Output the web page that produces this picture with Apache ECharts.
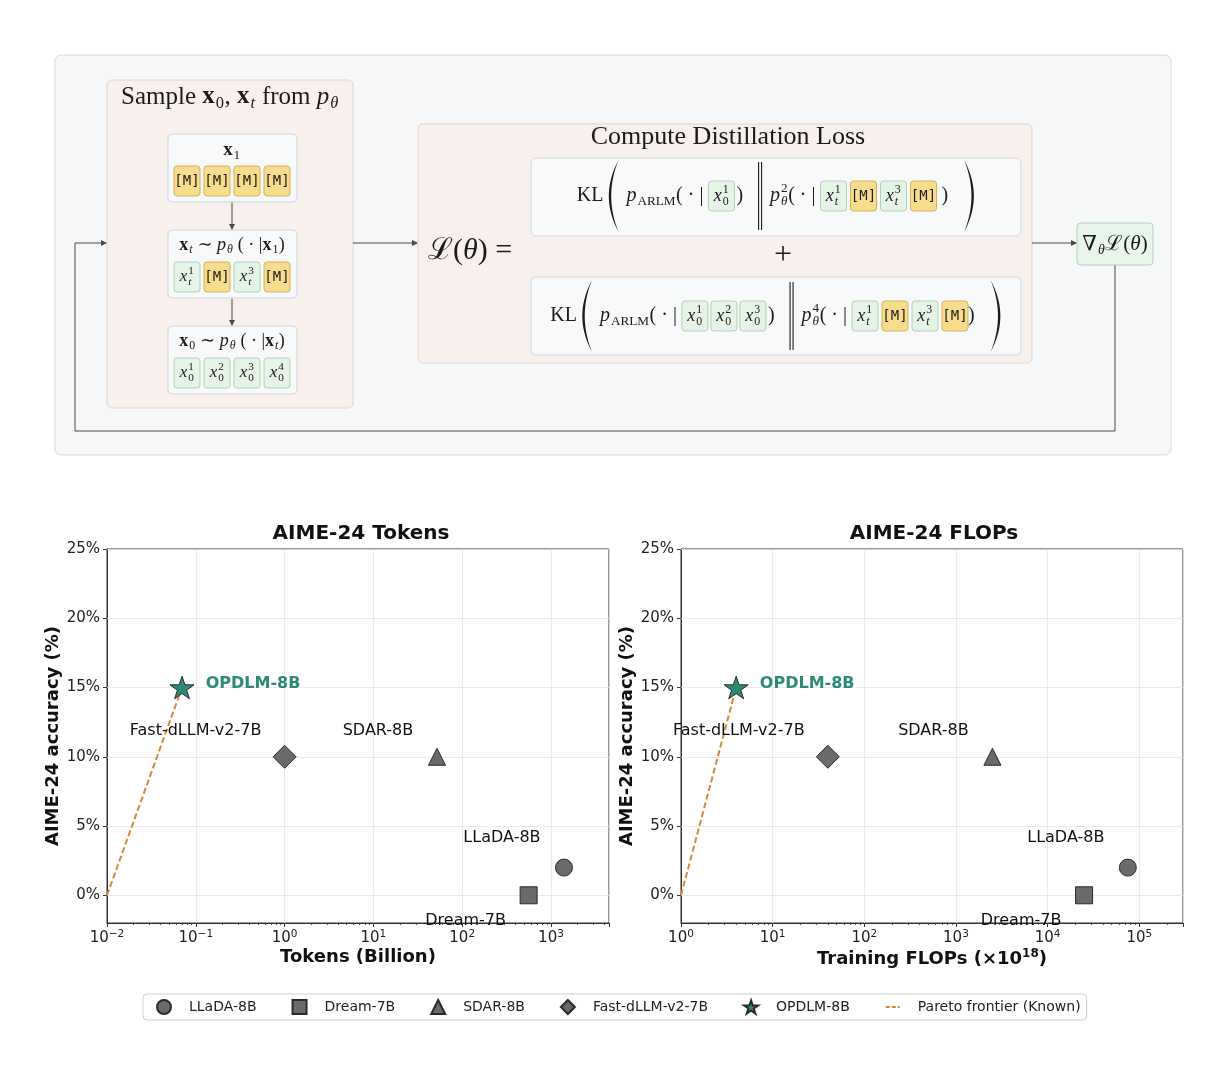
<!DOCTYPE html>
<html>
<head>
<meta charset="utf-8">
<title>OPDLM distillation loop and AIME-24 efficiency</title>
<script src="https://cdn.jsdelivr.net/npm/echarts@6/dist/echarts.min.js"></script>
<style>
  html, body { margin: 0; padding: 0; background: #fff; }
  #main { width: 1225px; height: 1066px; }
</style>
</head>
<body>
<div id="main"></div>
<script>
// ---- data ----
const models = ['LLaDA-8B', 'Dream-7B', 'SDAR-8B', 'Fast-dLLM-v2-7B', 'OPDLM-8B'];
const accuracy = [2, 0, 10, 10, 15];
const tokensBillion = [1400, 560, 52, 1, 0.07];
const flopsE18 = [75000, 25000, 2500, 40, 4];
const paretoTokens = [0.01, 0.07];
const paretoFlops = [1, 4];
const paretoAcc = [0, 15];
const yTicks = [0, 5, 10, 15, 20, 25];
const paretoName = 'Pareto frontier (Known)';

const SANS = '"DejaVu Sans", sans-serif';
const SERIF = '"Liberation Serif", "DejaVu Serif", serif';
const MONO = '"DejaVu Sans Mono", monospace';
const teal = '#2b8b78';
const gray = '#6a6a6a';
const orange = '#d08b3c';

// ---- diagram helpers (graphic elements) ----
const G = [];
const cv = document.createElement('canvas').getContext('2d');
function fstr(sz, o) { return (o.it ? 'italic ' : '') + (o.b ? 'bold ' : '') + sz + 'px ' + (o.fam || SERIF); }
function tw(s, sz, o) { cv.font = fstr(sz, o || {}); return cv.measureText(s).width; }

function box(x, y, w, h, fill, stroke, r, z) {
  G.push({ type: 'rect', silent: true, z: z || 1, shape: { x: x, y: y, width: w, height: h, r: r || 4 },
    style: { fill: fill, stroke: stroke, lineWidth: 1 } });
}
function seg(pts) {
  G.push({ type: 'polyline', silent: true, z: 2, shape: { points: pts }, style: { stroke: '#4a4a4a', lineWidth: 1 } });
}
function head(x, y, dir) {
  const p = dir === 'r' ? [[x, y], [x - 6, y - 3], [x - 6, y + 3]] : [[x, y], [x - 3, y - 6], [x + 3, y - 6]];
  G.push({ type: 'polygon', silent: true, z: 2, shape: { points: p }, style: { fill: '#4a4a4a' } });
}
function txt(x, y, s, sz, o) {
  o = o || {};
  G.push({ type: 'text', silent: true, z: 6, x: x, y: y, style: {
    text: s, fontSize: sz, fontFamily: o.fam || SERIF,
    fontStyle: o.it ? 'italic' : 'normal', fontWeight: o.b ? 'bold' : 'normal',
    fill: o.fill || '#1b1b1b', align: o.align || 'left', verticalAlign: 'middle' } });
}

const t = (s, sz, o) => Object.assign({ k: 't', s: s, sz: sz }, o || {});
const v = (s, sz, o) => Object.assign({ k: 'v', s: s, sz: sz }, o || {});
const sp = w => ({ k: 'sp', w: w });
const M = (w, h) => ({ k: 'tok', w: w || 26, h: h || 30 });
const X = (sup, sub, w, h, fs) => ({ k: 'tok', w: w || 26, h: h || 30,
  v: v('x', fs || 17, { it: true, sup: sup, sub: sub, subIt: sub === 't' }) });
const paren = (open, h) => ({ k: 'paren', open: open, h: h, w: 13 });
const dbar = h => ({ k: 'bar', h: h, w: 7 });

function vw(it) {
  const ss = it.sz * 0.66;
  const bw = tw(it.s, it.sz, it);
  const sw = Math.max(it.sup ? tw(it.sup, ss, {}) : 0, it.sub ? tw(it.sub, ss, { it: it.subIt }) : 0);
  return { bw: bw, w: bw + sw + (sw ? 1.5 : 0) };
}
function width(it) {
  if (it.k === 't') return tw(it.s, it.sz, it);
  if (it.k === 'v') return vw(it).w;
  return it.w;
}
function put(it, x, cy) {
  if (it.k === 't') {
    txt(x, cy + (it.dy || 0), it.s, it.sz, it);
  } else if (it.k === 'v') {
    const m = vw(it), ss = it.sz * 0.66, sx = x + m.bw + 1;
    txt(x, cy, it.s, it.sz, it);
    if (it.sup) txt(sx, cy - it.sz * (it.sub ? 0.36 : 0.4), it.sup, ss, {});
    if (it.sub) txt(sx, cy + it.sz * (it.sup ? 0.3 : 0.28), it.sub, ss, { it: it.subIt });
  } else if (it.k === 'tok') {
    const yel = !it.v;
    G.push({ type: 'rect', silent: true, z: 4, shape: { x: x, y: cy - it.h / 2, width: it.w, height: it.h, r: 3 },
      style: { fill: yel ? '#f8de8c' : '#e5f4e7', stroke: yel ? '#d3b25a' : '#b0d2b4', lineWidth: 1 } });
    if (yel) txt(x + it.w / 2, cy, '[M]', 14, { fam: MONO, align: 'center' });
    else put(it.v, x + (it.w - vw(it.v).w) / 2, cy);
  } else if (it.k === 'paren') {
    const N = 18, th = 2.4, top = cy - it.h / 2, bot = cy + it.h / 2;
    const sg = it.open ? 1 : -1;
    const xa = it.open ? x + it.w * 0.85 : x + it.w * 0.15;
    const bulge = it.open ? x + it.w * 0.1 : x + it.w * 0.9;
    const xc = 2 * bulge - xa, xci = 2 * (bulge + sg * th) - xa;
    const pts = [];
    for (let i = 0; i <= N; i++) {
      const u = i / N;
      pts.push([(1 - u) * (1 - u) * xa + 2 * u * (1 - u) * xc + u * u * xa, (1 - u) * (1 - u) * top + 2 * u * (1 - u) * cy + u * u * bot]);
    }
    for (let i = N; i >= 0; i--) {
      const u = i / N;
      pts.push([(1 - u) * (1 - u) * xa + 2 * u * (1 - u) * xci + u * u * xa, (1 - u) * (1 - u) * top + 2 * u * (1 - u) * cy + u * u * bot]);
    }
    G.push({ type: 'polygon', silent: true, z: 6, shape: { points: pts }, style: { fill: '#1b1b1b' } });
  } else if (it.k === 'bar') {
    [1.5, 4.5].forEach(d => G.push({ type: 'line', silent: true, z: 6,
      shape: { x1: x + d, y1: cy - it.h / 2, x2: x + d, y2: cy + it.h / 2 }, style: { stroke: '#1b1b1b', lineWidth: 1.1 } }));
  }
}
function row(items, cx, cy) {
  const ws = items.map(width);
  let x = cx - ws.reduce((a, b) => a + b, 0) / 2;
  items.forEach((it, i) => { put(it, x, cy); x += ws[i]; });
}

// ---- diagram ----
box(55, 55, 1116, 400, '#f5f7f9', '#d5d9de', 6, 0);

// sampling panel
box(107, 80, 246, 328, '#f8f0ed', '#e0d5d1', 5, 1);
row([t('Sample ', 25), v('x', 25, { b: true, sub: '0' }), t(', ', 25), v('x', 25, { b: true, sub: 't', subIt: true }),
  t(' from ', 25), v('p', 25, { it: true, sub: 'θ', subIt: true })], 230, 97);
[134, 230, 326].forEach(y => box(168, y, 129, 68, '#f7f9fa', '#cfd4d9', 4, 3));
row([v('x', 19, { b: true, sub: '1' })], 232, 150);
row([M(), sp(4), M(), sp(4), M(), sp(4), M()], 232, 181);
row([v('x', 18, { b: true, sub: 't', subIt: true }), t(' ∼ ', 18), v('p', 18, { it: true, sub: 'θ', subIt: true }),
  t(' ( · |', 18), v('x', 18, { b: true, sub: '1' }), t(')', 18)], 232, 245);
row([X('1', 't'), sp(4), M(), sp(4), X('3', 't'), sp(4), M()], 232, 277);
row([v('x', 18, { b: true, sub: '0' }), t(' ∼ ', 18), v('p', 18, { it: true, sub: 'θ', subIt: true }),
  t(' ( · |', 18), v('x', 18, { b: true, sub: 't', subIt: true }), t(')', 18)], 232, 341);
row([X('1', '0'), sp(4), X('2', '0'), sp(4), X('3', '0'), sp(4), X('4', '0')], 232, 373);
seg([[232, 202], [232, 229]]); head(232, 230, 'd');
seg([[232, 299], [232, 325]]); head(232, 326, 'd');

// loss panel
seg([[353, 243], [417, 243]]); head(418, 243, 'r');
box(418, 124, 614, 239, '#f8f0ed', '#e0d5d1', 5, 1);
row([t('Compute Distillation Loss', 26)], 728, 137);
row([t('ℒ', 30), t('(', 30), t('θ', 30, { it: true }), t(')', 30), t(' =', 30)], 470, 251);
row([t('+', 32)], 783, 256);
box(531, 158, 490, 78, '#f7f9fa', '#d2d7db', 5, 3);
box(531, 277, 490, 78, '#f7f9fa', '#d2d7db', 5, 3);
const KS = 20;
const pA = () => v('p', KS, { it: true, sub: 'ARLM' });
const pT = n => v('p', KS, { it: true, sup: n, sub: 'θ', subIt: true });
const given = () => t('( · | ', KS);
const K = (a, b) => X(a, b, 26, 30, 18);
row([t('KL', KS), sp(4), paren(true, 72), sp(6), pA(), given(), K('1', '0'), sp(2), t(')', KS), sp(14),
  dbar(68), sp(6), pT('2'), given(), K('1', 't'), sp(4), M(26), sp(4), K('3', 't'), sp(4), M(26),
  t(' )', KS), sp(14), paren(false, 72)], 776, 196);
row([t('KL', KS), sp(4), paren(true, 72), sp(6), pA(), given(), K('1', '0'), sp(3), K('2', '0'), sp(3),
  K('3', '0'), sp(2), t(')', KS), sp(14), dbar(68), sp(6), pT('4'), given(), K('1', 't'), sp(4), M(26), sp(4),
  K('3', 't'), sp(4), M(26), t(')', KS), sp(14), paren(false, 72)], 776, 316);

// gradient + loop back
seg([[1032, 243], [1076, 243]]); head(1077, 243, 'r');
box(1077, 223, 76, 42, '#e8f5ea', '#b3d4b7', 4, 3);
row([v('∇', 21, { sub: 'θ', subIt: true }), t('ℒ(', 21), t('θ', 21, { it: true }), t(')', 21)], 1115, 244);
seg([[1115, 265], [1115, 431], [75, 431], [75, 243], [106, 243]]); head(107, 243, 'r');

// ---- charts ----
const STAR = 'path://M50,0 L61.8,35.1 L98.9,35.1 L68.8,56.8 L80.3,91.9 L50,70.2 L19.7,91.9 L31.2,56.8 L1.1,35.1 L38.2,35.1 Z';
const shapes = ['circle', 'rect', 'triangle', 'diamond', STAR];
const sizes = [17, 17, 17, 23, 24];
const labelOffsets = [[-62, -30], [-63, 26], [-59, -26], [-89, -26], [71, -4]];

function pointSeries(xs, gi) {
  return models.map((m, i) => ({
    name: m, type: 'scatter', xAxisIndex: gi, yAxisIndex: gi, z: 5,
    symbol: shapes[i], symbolSize: sizes[i], symbolKeepAspect: true,
    itemStyle: { color: i === 4 ? teal : gray, borderColor: '#2a2a2a', borderWidth: 1, opacity: 1 },
    label: { show: true, position: 'inside', offset: labelOffsets[i], formatter: m,
      fontFamily: SANS, fontSize: 16, fontWeight: i === 4 ? 'bold' : 'normal', color: i === 4 ? teal : '#111' },
    data: [[xs[i], accuracy[i]]]
  }));
}
function paretoSeries(xs, gi) {
  return {
    name: paretoName, type: 'line', xAxisIndex: gi, yAxisIndex: gi, z: 3,
    symbol: 'none', data: xs.map((x, i) => [x, paretoAcc[i]]),
    lineStyle: { color: orange, width: 2, type: [6, 3] }, itemStyle: { color: orange },
    markLine: { silent: true, symbol: 'none', z: 1, label: { show: false },
      lineStyle: { color: '#e4e4e4', width: 0.8, type: 'solid' },
      data: yTicks.map(y => ({ yAxis: y })) }
  };
}
function xAxis(gi, min, max, name) {
  return {
    type: 'log', logBase: 10, gridIndex: gi, min: min, max: max,
    name: name, nameLocation: 'middle', nameGap: 25,
    nameTextStyle: { fontFamily: SANS, fontSize: 18, fontWeight: 'bold', color: '#111',
      rich: { sup: { fontFamily: SANS, fontSize: 12, fontWeight: 'bold', color: '#111', padding: [0, 0, 10, 0] } } },
    axisLine: { show: true, onZero: false, lineStyle: { color: '#333', width: 1 } },
    axisTick: { show: true, length: 4, lineStyle: { color: '#333' } },
    minorTick: { show: true, splitNumber: 9, length: 2, lineStyle: { color: '#333', width: 0.8 } },
    axisLabel: { showMaxLabel: false, margin: 6, color: '#222',
      formatter: val => '{b|10}{s|' + String(Math.round(Math.log10(val))).replace('-', '−') + '}',
      rich: { b: { fontFamily: SANS, fontSize: 15, color: '#222' },
        s: { fontFamily: SANS, fontSize: 10.5, color: '#222', padding: [0, 0, 8, 0] } } },
    splitLine: { show: true, lineStyle: { color: '#e4e4e4', width: 0.8 } }
  };
}
function yAxis(gi) {
  return {
    type: 'value', gridIndex: gi, min: -2, max: 25,
    name: 'AIME-24 accuracy (%)', nameLocation: 'middle', nameGap: 43, nameRotate: 90,
    nameTextStyle: { fontFamily: SANS, fontSize: 18, fontWeight: 'bold', color: '#111' },
    axisLine: { show: true, onZero: false, lineStyle: { color: '#333', width: 1 } },
    axisTick: { show: true, length: 4, customValues: yTicks, lineStyle: { color: '#333' } },
    axisLabel: { customValues: yTicks, formatter: '{value}%', fontFamily: SANS, fontSize: 15, color: '#222', margin: 7 },
    splitLine: { show: false }
  };
}

const option = {
  animation: false,
  backgroundColor: '#fff',
  graphic: { elements: G },
  title: [
    { text: 'AIME-24 Tokens', left: 356, top: 519, textAlign: 'center',
      textStyle: { fontFamily: SANS, fontSize: 20, fontWeight: 'bold', color: '#111' } },
    { text: 'AIME-24 FLOPs', left: 929, top: 519, textAlign: 'center',
      textStyle: { fontFamily: SANS, fontSize: 20, fontWeight: 'bold', color: '#111' } }
  ],
  grid: [
    { left: 107, top: 549, width: 502, height: 374, show: true, borderColor: '#333', borderWidth: 1, backgroundColor: 'transparent' },
    { left: 681, top: 549, width: 502, height: 374, show: true, borderColor: '#333', borderWidth: 1, backgroundColor: 'transparent' }
  ],
  xAxis: [
    xAxis(0, 0.01, 4500, 'Tokens (Billion)'),
    xAxis(1, 1, 300000, 'Training FLOPs (×10{sup|18})')
  ],
  yAxis: [yAxis(0), yAxis(1)],
  legend: {
    left: 143, top: 994, selectedMode: false,
    data: models.concat([{ name: paretoName, itemStyle: { opacity: 0 }, lineStyle: { type: [4, 2] } }]),
    itemWidth: 14, itemHeight: 14, itemGap: 35,
    padding: [5, 6, 5, 13],
    borderColor: '#cfcfcf', borderWidth: 1, borderRadius: 4,
    textStyle: { fontFamily: SANS, fontSize: 14, color: '#222', padding: [0, 0, 0, 13] }
  },
  series: [].concat(
    [paretoSeries(paretoTokens, 0)], pointSeries(tokensBillion, 0),
    [paretoSeries(paretoFlops, 1)], pointSeries(flopsE18, 1)
  )
};

const chart = echarts.init(document.getElementById('main'), null, { renderer: 'canvas' });
chart.setOption(option);
window.addEventListener('resize', () => chart.resize());
</script>
</body>
</html>
